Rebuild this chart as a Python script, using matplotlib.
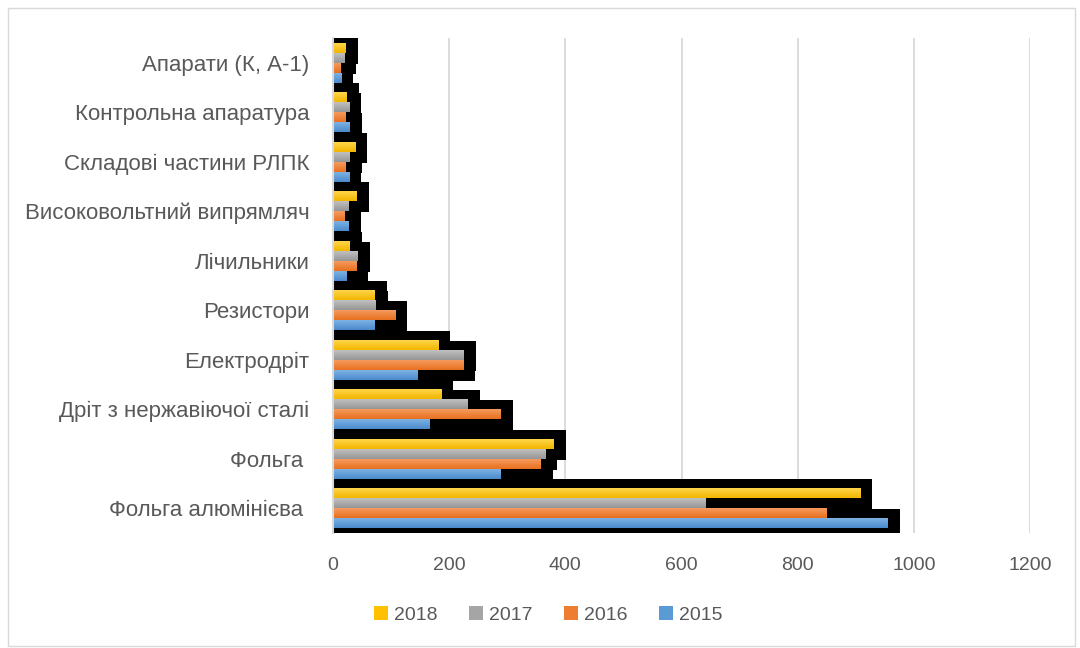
import matplotlib
matplotlib.use("Agg")
import matplotlib.pyplot as plt
from matplotlib.patches import Patch, Rectangle
import numpy as np

categories = [
    "Апарати (К, А-1)",
    "Контрольна апаратура",
    "Складові частини РЛПК",
    "Високовольтний випрямляч",
    "Лічильники",
    "Резистори",
    "Електродріт",
    "Дріт з нержавіючої сталі",
    "Фольга ",
    "Фольга алюмінієва ",
]
years = ["2018", "2017", "2016", "2015"]
v2018 = [22, 24, 38, 41, 29, 72, 181, 186, 380, 908]
v2017 = [19, 28, 29, 26, 43, 74, 225, 232, 365, 641]
v2016 = [13, 21, 22, 19, 40, 107, 224, 289, 358, 850]
v2015 = [14, 29, 28, 27, 24, 72, 146, 167, 289, 955]
series = [v2018, v2017, v2016, v2015]
colors = ["#FFC000", "#A5A5A5", "#ED7D31", "#5B9BD5"]
tops = ["#FFD54A", "#C0C0C0", "#F59A5E", "#7DB2E3"]
bottoms = ["#F2B600", "#969696", "#E8701F", "#4A8ACB"]
xticks = [0, 200, 400, 600, 800, 1000, 1200]

W, H = 1080, 648
fig = plt.figure(figsize=(W / 100, H / 100), dpi=100)
ax = fig.add_axes([333 / W, 1 - 533 / H, (1030 - 333) / W, (533 - 38) / H])

n = len(categories)
y = np.arange(n)
bh = 0.2
offsets = [-0.3, -0.1, 0.1, 0.3]
px_x = 1200 / (1030 - 333)   # data units per pixel (x)
px_y = 10 / (533 - 38)       # data units per pixel (y)

# shadows
for s, vals in enumerate(series):
    for i, v in enumerate(vals):
        yc = y[i] + offsets[s]
        top = yc - bh / 2 - 9 * px_y
        bot = yc + bh / 2 + 11 * px_y
        ax.add_patch(Rectangle((-1.5 * px_x, top), v + 13.5 * px_x, bot - top,
                               facecolor="black", edgecolor="none", zorder=2))

# bars
for s, vals in enumerate(series):
    ax.barh(y + offsets[s], vals, height=bh, color=colors[s], zorder=3, label=years[s])
    grad = np.linspace(0, 1, 32).reshape(-1, 1)
    c1 = np.array(matplotlib.colors.to_rgb(tops[s]))
    c2 = np.array(matplotlib.colors.to_rgb(bottoms[s]))
    img = (c1[None, None, :] * (1 - grad[..., None]) + c2[None, None, :] * grad[..., None])
    for i, v in enumerate(vals):
        yc = y[i] + offsets[s]
        ax.imshow(img, extent=[0, v, yc + bh / 2, yc - bh / 2], aspect="auto",
                  zorder=4, interpolation="bilinear")

ax.set_xlim(0, 1200)
ax.set_ylim(n - 0.5, -0.5)
ax.set_xticks(xticks)
ax.set_xticklabels([str(t) for t in xticks])
ax.set_yticks(y)
ax.set_yticklabels(categories)
ax.set_axisbelow(True)
ax.grid(axis="x", color="#D9D9D9", linewidth=1.3)
for sp in ["top", "right", "bottom"]:
    ax.spines[sp].set_visible(False)
ax.spines["left"].set_color("#D9D9D9")
ax.spines["left"].set_linewidth(1.5)
ax.spines["left"].set_zorder(5)
ax.tick_params(axis="both", length=0, colors="#595959")
ax.tick_params(axis="x", pad=17, labelsize=14)
ax.tick_params(axis="y", pad=17, labelsize=16)
for lab in ax.get_xticklabels() + ax.get_yticklabels():
    lab.set_fontfamily("Liberation Sans")
    lab.set_color("#595959")

handles = [Patch(facecolor=c, edgecolor="none") for c in colors]
fig.legend(handles, years, loc="center", bbox_to_anchor=(548 / W, 1 - 615 / H), ncol=4,
           frameon=False, handlelength=0.75, handleheight=0.75, handletextpad=0.3,
           columnspacing=1.6, prop={"family": "Liberation Sans", "size": 14}, labelcolor="#595959")

fig.patches.append(Rectangle((8 / W, 2 / H), (1075 - 8) / W, (640 - 2) / H, transform=fig.transFigure,
                             fill=False, edgecolor="#D9D9D9", linewidth=1))
fig.savefig("out.png", dpi=100)
